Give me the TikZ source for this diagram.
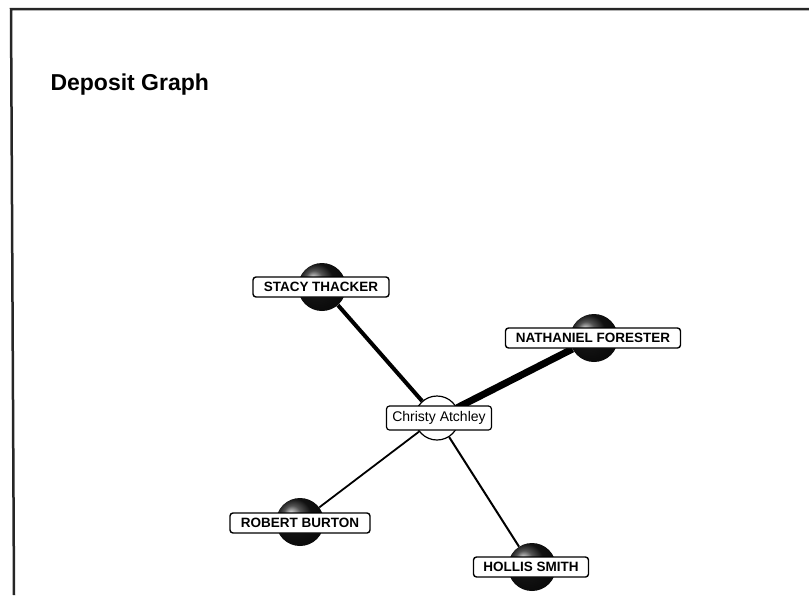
\documentclass[tikz,border=0pt]{standalone}
\usepackage{fontspec}
\setmainfont{Liberation Sans}
\usetikzlibrary{shadings}
\begin{document}
\begin{tikzpicture}[x=1pt,y=-1pt,
  frameline/.style={line width=2.5pt,black!85},
  person/.style={circle,minimum size=48pt,inner sep=0pt,ball color=black!90,draw=none},
  center/.style={circle,minimum size=44pt,inner sep=0pt,fill=white,draw=black,line width=1.2pt},
  tag/.style={draw=black,fill=white,rounded corners=3pt,line width=1.4pt,inner sep=0pt,minimum height=20pt,font=\bfseries\fontsize{13.5}{15}\selectfont},
  ctag/.style={draw=black,fill=white,rounded corners=3pt,line width=1.2pt,inner sep=0pt,minimum height=24pt,font=\fontsize{14}{16}\selectfont},
  link/.style={black}]
\useasboundingbox (0,0) rectangle (809,595);
\coordinate (fb) at (14,595);
\coordinate (ft) at (11,9);
\coordinate (fr) at (809,9);
\draw[frameline] (fb) -- (ft) -- (fr);
\node[anchor=base west,font=\bfseries\fontsize{23}{27}\selectfont] (title) at (47,90) {Deposit Graph};

\node[person] (s1) at (322,287) {};
\node[person] (s2) at (594,338) {};
\node[person] (s3) at (300,522) {};
\node[person] (s4) at (532,567) {};
\node[center] (c) at (437,418) {};

\draw[link,line width=4pt] (c) -- (s1);
\draw[link,line width=7pt] (c) -- (s2);
\draw[link,line width=1.8pt] (c) -- (s3);
\draw[link,line width=2pt] (c) -- (s4);

\node[tag,minimum width=136pt] (l1) at (321,287) {STACY THACKER};
\node[tag,minimum width=175pt] (l2) at (593,338) {NATHANIEL FORESTER};
\node[tag,minimum width=140pt] (l3) at (300,523) {ROBERT BURTON};
\node[tag,minimum width=115pt] (l4) at (531,567) {HOLLIS SMITH};
\node[ctag,minimum width=105pt] (lc) at (439,418) {Christy Atchley};
\end{tikzpicture}
\end{document}
